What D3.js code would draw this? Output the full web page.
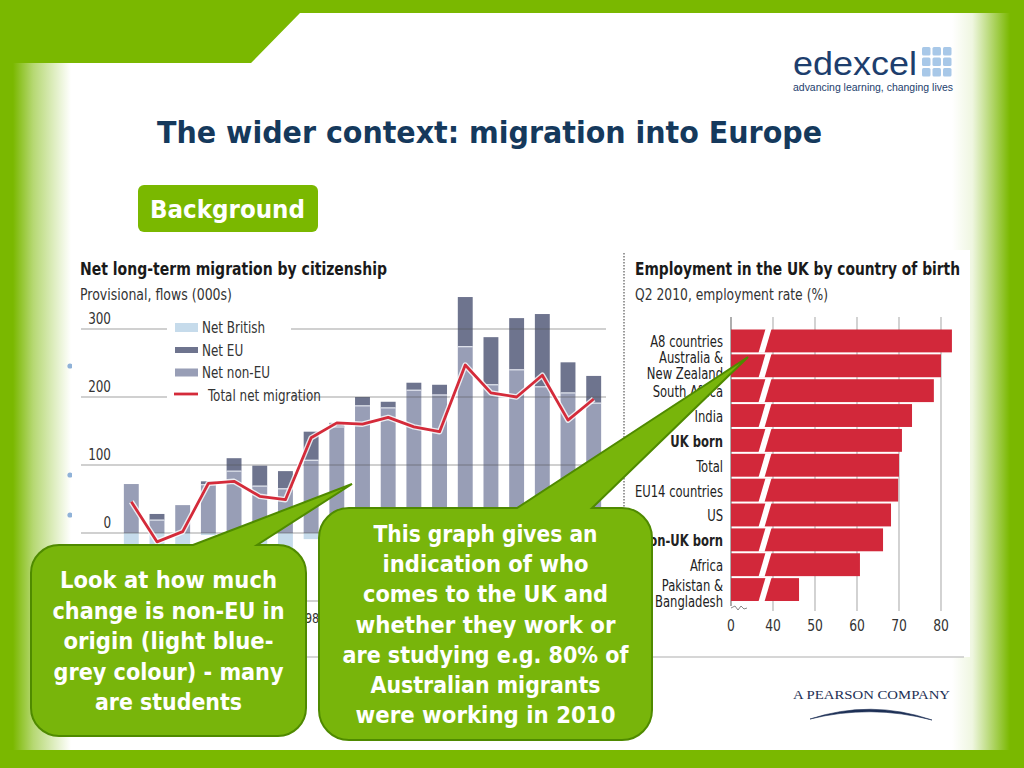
<!DOCTYPE html>
<html><head><meta charset="utf-8">
<script src="https://cdn.jsdelivr.net/npm/d3@7"></script>
<style>
html,body{margin:0;padding:0;background:#7ab800;overflow:hidden}
svg{display:block}
</style></head><body>
<svg id="c" width="1024" height="768"></svg>
<script>
// ---------- DATA ----------
const years = ["1991","1992","1993","1994","1995","1996","1997","1998","1999","2000","2001","2002","2003","2004","2005","2006","2007","2008","2009"];
// only the year label that is not hidden behind the callouts in the slide
const yearLabels = ["", "", "", "", "", "", "", "98", "", "", "", "", "", "", "", "", "", "", ""];
const netNonEU   = [72, 19, 41, 71, 91, 69, 65, 107, 156, 187, 184, 210, 203, 274, 218, 240, 215, 206, 191];
const netEU      = [0, 9, 0, 5, 19, 30, 26, 42, 6, 13, 9, 11, 15, 73, 70, 76, 107, 45, 40];
const netBritish = [-26, -41, -39, -3, -34, -45, -42, -9, -2, -40, -23, -65, -69, -100, -82, -116, -90, -85, -34];
const totalNet   = [46, -13, 2, 73, 76, 54, 49, 140, 162, 160, 170, 156, 149, 247, 206, 200, 232, 166, 197];
const migTicks = [-100, 0, 100, 200, 300];
const migTickLabels = ["", "0", "100", "200", "300"];
const legendItems = ["Net British", "Net EU", "Net non-EU", "Total net migration"];

const countries = ["A8 countries", "Australia & New Zealand", "South Africa", "India", "UK born", "Total", "EU14 countries", "US", "Non-UK born", "Africa", "Pakistan & Bangladesh"];
const countryLabelLines = [["A8 countries"], ["Australia &", "New Zealand"], ["South Africa"], ["India"], ["UK born"], ["Total"], ["EU14 countries"], ["US"], ["Non-UK born"], ["Africa"], ["Pakistan &", "Bangladesh"]];
const boldCountries = ["UK born", "Non-UK born"];
const employmentRate = [82.6, 80.0, 78.3, 73.1, 70.7, 70.0, 69.8, 68.1, 66.2, 60.7, 46.2];
const rateTicks = [30, 40, 50, 60, 70, 80];
const rateTickLabels = ["0", "40", "50", "60", "70", "80"];

const leftNote = ["Look at how much", "change is non-EU in", "origin (light blue-", "grey colour) - many", "are students"];
const rightNote = ["This graph gives an", "indication of who", "comes to the UK and", "whether they work or", "are studying e.g. 80% of", "Australian migrants", "were working in 2010"];

// ---------- STYLE ----------
const GREEN = "#7ab800";
const NAVY = "#15395c";
const COND = "'DejaVu Sans Condensed','DejaVu Sans',sans-serif";
const K = 0.86;
const TAH = "'DejaVu Sans',Verdana,sans-serif";
const leftNoteW = [217, 232, 210, 230, 147];
const rightNoteW = [224, 206, 245, 260, 286, 230, 260];

const svg = d3.select("#c");
const defs = svg.append("defs");
function grad(id, rev){
  const g = defs.append("linearGradient").attr("id", id).attr("x1", 0).attr("x2", 1).attr("y1", 0).attr("y2", 0);
  g.append("stop").attr("offset", 0).attr("stop-color", GREEN).attr("stop-opacity", rev ? 0 : 1);
  g.append("stop").attr("offset", 0.35).attr("stop-color", GREEN).attr("stop-opacity", rev ? 0.12 : 0.55);
  g.append("stop").attr("offset", 1).attr("stop-color", GREEN).attr("stop-opacity", rev ? 1 : 0);
}
grad("gl", false); grad("gr", true);
const sq = (x, y) => `translate(${x},${y}) scale(${K},1)`;

// slide background
svg.append("rect").attr("width", 1024).attr("height", 768).attr("fill", GREEN);
svg.append("path").attr("d", "M13,63H251L300,13H1010V750H13Z").attr("fill", "#fff");
svg.append("rect").attr("x", 13).attr("y", 63).attr("width", 58).attr("height", 687).attr("fill", "url(#gl)");
svg.append("rect").attr("x", 952).attr("y", 13).attr("width", 58).attr("height", 737).attr("fill", "url(#gr)");

// logo
svg.append("text").attr("x", 793).attr("y", 75).attr("font-family", "'Liberation Sans',sans-serif")
  .attr("font-size", 33).attr("fill", "#1d3e6d").attr("textLength", 124).attr("lengthAdjust", "spacingAndGlyphs").text("edexcel");
svg.append("g").selectAll("rect").data(d3.range(9)).join("rect")
  .attr("x", d => 922 + (d % 3) * 10.5).attr("y", d => 47 + Math.floor(d / 3) * 10.5)
  .attr("width", 8.5).attr("height", 8.5).attr("rx", 1.5).attr("fill", "#a8c8e8");
svg.append("text").attr("x", 793).attr("y", 91).attr("font-family", "'Liberation Sans',sans-serif")
  .attr("font-size", 11.5).attr("fill", "#1d3e6d").attr("textLength", 160).attr("lengthAdjust", "spacingAndGlyphs")
  .text("advancing learning, changing lives");

// title
svg.append("text").attr("x", 157).attr("y", 143).attr("font-family", TAH).attr("font-weight", "bold")
  .attr("font-size", 30).attr("fill", NAVY).attr("textLength", 665).attr("lengthAdjust", "spacingAndGlyphs")
  .text("The wider context: migration into Europe");

// Background button
svg.append("rect").attr("x", 138).attr("y", 185).attr("width", 180).attr("height", 47).attr("rx", 6).attr("fill", GREEN);
svg.append("text").attr("x", 150).attr("y", 218).attr("font-family", TAH).attr("font-weight", "bold")
  .attr("font-size", 24).attr("fill", "#fff").attr("textLength", 155).attr("lengthAdjust", "spacingAndGlyphs").text("Background");

// bullets peeking out behind the chart
svg.append("g").selectAll("circle").data([366, 475, 515]).join("circle")
  .attr("cx", 70).attr("cy", d => d).attr("r", 2.6).attr("fill", "#8fb2d8");

// chart picture area
svg.append("rect").attr("x", 72).attr("y", 250).attr("width", 898).attr("height", 407).attr("fill", "#fff");
svg.append("line").attr("x1", 72).attr("x2", 964).attr("y1", 657).attr("y2", 657).attr("stroke", "#c8c8c8").attr("stroke-width", 1.5);

// ---------- LEFT CHART ----------
const L = svg.append("g");
L.append("text").attr("x", 80).attr("y", 275).attr("font-family", COND).attr("font-weight", "bold")
  .attr("font-size", 18).attr("fill", "#1a1a1a").attr("textLength", 307).attr("lengthAdjust", "spacingAndGlyphs")
  .text("Net long-term migration by citizenship");
L.append("text").attr("x", 80).attr("y", 300).attr("font-family", COND)
  .attr("font-size", 15).attr("fill", "#333").attr("textLength", 152).attr("lengthAdjust", "spacingAndGlyphs")
  .text("Provisional, flows (000s)");

const x = d3.scaleBand().domain(years).range([120, 605]).paddingInner(0.42).paddingOuter(0.15);
const y = d3.scaleLinear().domain([-100, 300]).range([601, 329]);

const rows = years.map((yr, i) => ({yr, lab: yearLabels[i], nonEU: netNonEU[i], eu: netEU[i], brit: netBritish[i], tot: totalNet[i]}));

L.append("g").selectAll("text").data(migTicks.filter((d, i) => migTickLabels[i])).join("text")
  .attr("transform", d => sq(111, y(d) - 5)).attr("text-anchor", "end")
  .attr("font-family", COND).attr("font-size", 15.5).attr("fill", "#333")
  .text(d => migTickLabels[migTicks.indexOf(d)]);

const bars = L.append("g");
bars.selectAll("rect.b").data(rows).join("rect").attr("class", "b")
  .attr("x", d => x(d.yr)).attr("width", x.bandwidth())
  .attr("y", y(0)).attr("height", d => y(d.brit) - y(0)).attr("fill", "#c6dbeb");
bars.selectAll("rect.n").data(rows).join("rect").attr("class", "n")
  .attr("x", d => x(d.yr)).attr("width", x.bandwidth())
  .attr("y", d => y(d.nonEU)).attr("height", d => y(0) - y(d.nonEU)).attr("fill", "#989eb6");
bars.selectAll("rect.e").data(rows.filter(d => d.eu > 0)).join("rect").attr("class", "e")
  .attr("x", d => x(d.yr)).attr("width", x.bandwidth())
  .attr("y", d => y(d.nonEU + d.eu)).attr("height", d => y(d.nonEU) - y(d.nonEU + d.eu)).attr("fill", "#6e748e");
bars.selectAll("line.s").data(rows.filter(d => d.eu > 0)).join("line").attr("class", "s")
  .attr("x1", d => x(d.yr)).attr("x2", d => x(d.yr) + x.bandwidth())
  .attr("y1", d => y(d.nonEU)).attr("y2", d => y(d.nonEU)).attr("stroke", "#e4e7f0").attr("stroke-width", 1.2);

L.append("g").selectAll("line").data(migTicks).join("line")
  .attr("x1", 81).attr("x2", 606).attr("y1", d => y(d)).attr("y2", d => y(d))
  .attr("stroke", "#555").attr("stroke-opacity", 0.55).attr("stroke-width", 1.2);

L.append("g").selectAll("text").data(rows.filter(d => d.lab)).join("text")
  .attr("transform", d => sq(x(d.yr) + x.bandwidth() / 2 + 1, 623)).attr("text-anchor", "middle")
  .attr("font-family", COND).attr("font-size", 14.5).attr("fill", "#333").text(d => d.lab);

const line = d3.line().x(d => x(d.yr) + x.bandwidth() / 2).y(d => y(d.tot));
L.append("path").datum(rows).attr("d", line).attr("fill", "none").attr("stroke", "#fff").attr("stroke-opacity", 0.8)
  .attr("stroke-width", 5.5).attr("stroke-linejoin", "round");
L.append("path").datum(rows).attr("d", line).attr("fill", "none").attr("stroke", "#d42b3a")
  .attr("stroke-width", 2.8).attr("stroke-linejoin", "round");

const lg = L.append("g");
lg.append("rect").attr("x", 167).attr("y", 312).attr("width", 124).attr("height", 92).attr("fill", "#fff");
const legFill = ["#c6dbeb", "#6e748e", "#989eb6"];
const legH = [9, 6, 8];
legendItems.forEach((t, i) => {
  const cy = 327.5 + i * 22.5;
  if (i < 3) {
    lg.append("rect").attr("x", 175).attr("y", cy - legH[i] / 2).attr("width", 23).attr("height", legH[i]).attr("fill", legFill[i]);
  } else {
    lg.append("line").attr("x1", 174).attr("x2", 198).attr("y1", cy - 1).attr("y2", cy - 1).attr("stroke", "#d42b3a").attr("stroke-width", 2.8);
  }
  lg.append("text").attr("transform", sq(i < 3 ? 202 : 208, cy + 5.5)).attr("font-family", COND)
    .attr("font-size", 15.5).attr("fill", "#333").text(t);
});

svg.append("line").attr("x1", 624).attr("x2", 624).attr("y1", 253).attr("y2", 657)
  .attr("stroke", "#666").attr("stroke-width", 1.3).attr("stroke-dasharray", "1.5,1.5");

// ---------- RIGHT CHART ----------
const R = svg.append("g");
R.append("text").attr("x", 635).attr("y", 275).attr("font-family", COND).attr("font-weight", "bold")
  .attr("font-size", 18).attr("fill", "#1a1a1a").attr("textLength", 325).attr("lengthAdjust", "spacingAndGlyphs")
  .text("Employment in the UK by country of birth");
R.append("text").attr("x", 635).attr("y", 300).attr("font-family", COND)
  .attr("font-size", 15).attr("fill", "#333").attr("textLength", 193).attr("lengthAdjust", "spacingAndGlyphs")
  .text("Q2 2010, employment rate (%)");

const xr = d3.scaleLinear().domain([30, 80]).range([731, 941]);
const yr = d3.scaleBand().domain(countries).range([328.5, 602]).paddingInner(0.08).paddingOuter(0.04);

R.append("g").selectAll("line").data(rateTicks.slice(1)).join("line")
  .attr("x1", d => xr(d)).attr("x2", d => xr(d)).attr("y1", 317).attr("y2", 611)
  .attr("stroke", "#b5b5b5").attr("stroke-width", 1.2);
R.append("line").attr("x1", xr(30)).attr("x2", xr(30)).attr("y1", 317).attr("y2", 606)
  .attr("stroke", "#777").attr("stroke-width", 1.2);
R.append("path").attr("d", `M${xr(30)},608 l4,-2 l3,4 l3,-4 l3,3 l3,-1`).attr("fill", "none").attr("stroke", "#888").attr("stroke-width", 1);

const rrows = countries.map((c, i) => ({c, v: employmentRate[i], lines: countryLabelLines[i]}));
R.append("g").selectAll("rect").data(rrows).join("rect")
  .attr("x", xr(30)).attr("y", d => yr(d.c)).attr("width", d => xr(d.v) - xr(30)).attr("height", yr.bandwidth())
  .attr("fill", "#d2283a");
R.append("g").selectAll("path").data(rrows).join("path")
  .attr("d", d => {
    const t = yr(d.c) - 0.5, b = yr(d.c) + yr.bandwidth() + 0.5;
    return `M758.5,${b}L764.5,${b}L771.5,${t}L765.5,${t}Z`;
  }).attr("fill", "#fff");

const cl = R.append("g");
rrows.forEach((d, k) => {
  const cy = yr(d.c) + yr.bandwidth() / 2;
  d.lines.forEach((t, i) => {
    const yy = d.lines.length === 1 ? cy + 6.5 : cy + (k === 1 ? -2.5 : 1) + i * 16;
    cl.append("text").attr("transform", sq(723, yy)).attr("text-anchor", "end")
      .attr("font-family", COND).attr("font-size", 15).attr("fill", "#222")
      .attr("font-weight", boldCountries.includes(d.c) ? "bold" : "normal").text(t);
  });
});
R.append("g").selectAll("text").data(rateTicks).join("text")
  .attr("transform", d => sq(xr(d), 631)).attr("text-anchor", "middle")
  .attr("font-family", COND).attr("font-size", 16).attr("fill", "#333").text((d, i) => rateTickLabels[i]);

// Pearson
svg.append("text").attr("x", 793).attr("y", 699).attr("font-family", "'Liberation Serif','DejaVu Serif',serif")
  .attr("font-size", 13.5).attr("fill", "#1d2f55").attr("textLength", 157).attr("lengthAdjust", "spacingAndGlyphs")
  .text("A PEARSON COMPANY");
svg.append("path").attr("d", "M810,719Q871,699 932,720Q871,704 810,719Z").attr("fill", "#1d2f55").attr("stroke", "#1d2f55").attr("stroke-width", 0.6);

// ---------- CALLOUTS ----------
function callout(x0, y0, x1, y1, r, b0, b1, tx, ty){
  return `M${x0 + r},${y0}L${b0},${y0}L${tx},${ty}L${b1},${y0}L${x1 - r},${y0}A${r},${r} 0 0 1 ${x1},${y0 + r}` +
    `L${x1},${y1 - r}A${r},${r} 0 0 1 ${x1 - r},${y1}L${x0 + r},${y1}A${r},${r} 0 0 1 ${x0},${y1 - r}` +
    `L${x0},${y0 + r}A${r},${r} 0 0 1 ${x0 + r},${y0}Z`;
}
const C = svg.append("g");
C.append("path").attr("d", callout(31, 545, 306, 736, 28, 193, 257, 352, 484))
  .attr("fill", "#78b50b").attr("stroke", "#4f8a00").attr("stroke-width", 2);
C.append("path").attr("d", callout(319, 508, 652, 740, 30, 517, 592, 748, 357))
  .attr("fill", "#78b50b").attr("stroke", "#4f8a00").attr("stroke-width", 2);
leftNote.forEach((t, i) => {
  C.append("text").attr("x", 168.5).attr("y", 588 + i * 30.5).attr("text-anchor", "middle")
    .attr("font-family", TAH).attr("font-weight", "bold").attr("font-size", 23).attr("fill", "#fff")
    .attr("textLength", leftNoteW[i]).attr("lengthAdjust", "spacingAndGlyphs").text(t);
});
rightNote.forEach((t, i) => {
  C.append("text").attr("x", 485.5).attr("y", 542 + i * 30.2).attr("text-anchor", "middle")
    .attr("font-family", TAH).attr("font-weight", "bold").attr("font-size", 23).attr("fill", "#fff")
    .attr("textLength", rightNoteW[i]).attr("lengthAdjust", "spacingAndGlyphs").text(t);
});
</script>
</body></html>
